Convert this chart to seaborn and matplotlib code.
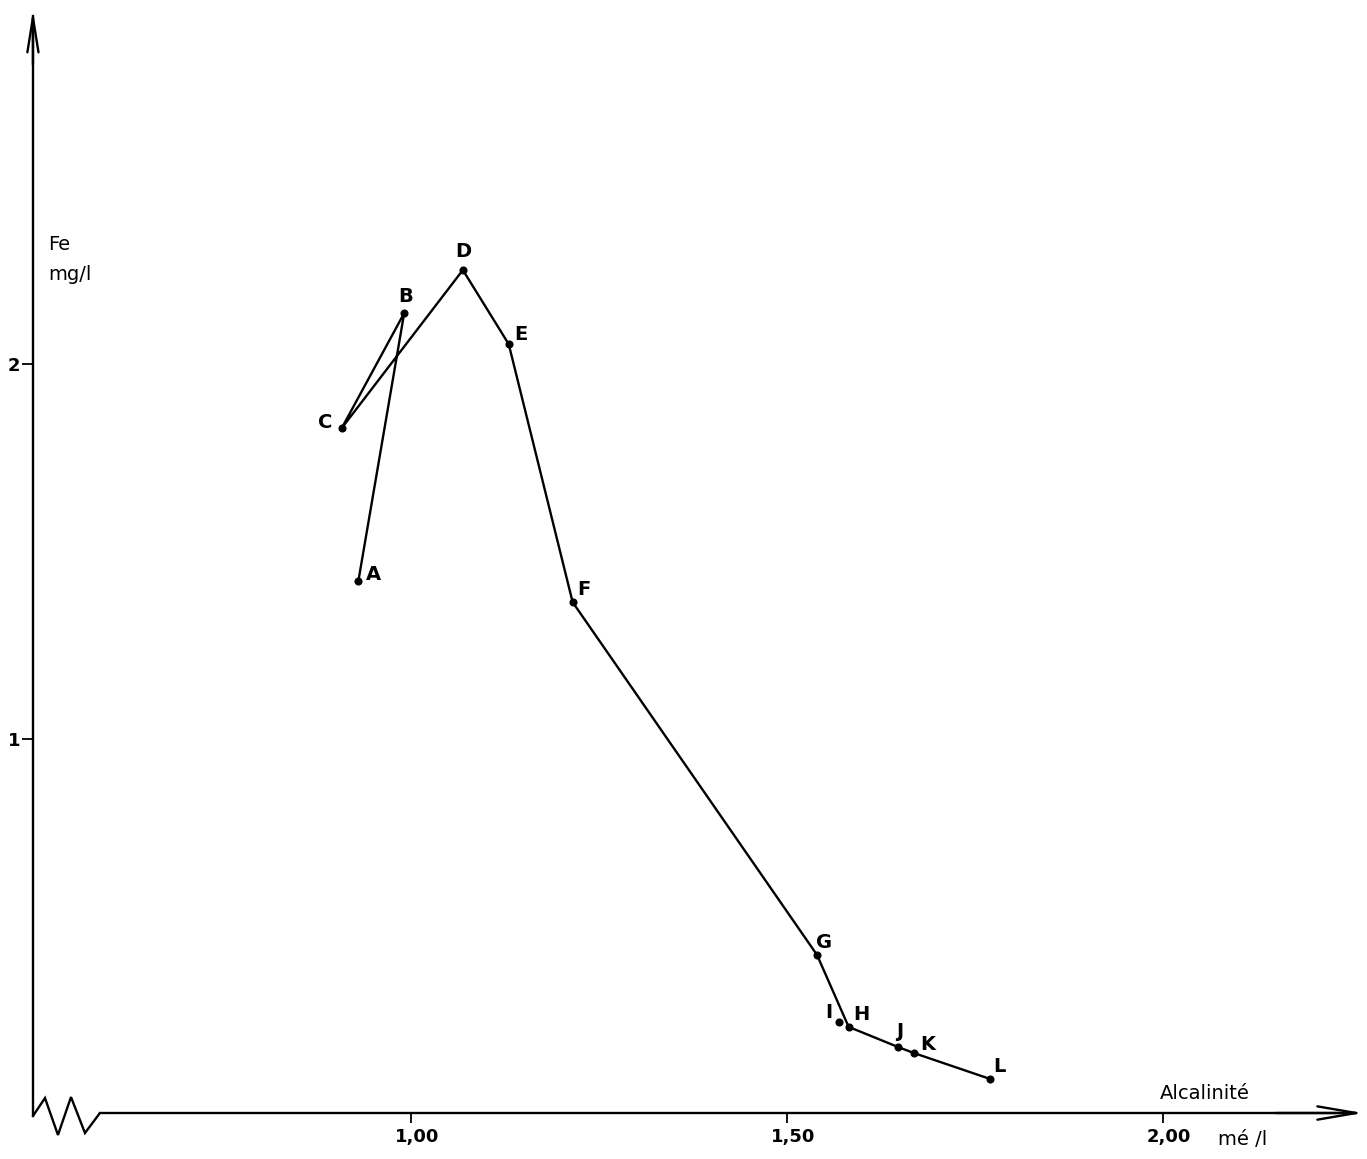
"""
Fe (mg/l) against alkalinity (mé/l), points A to L.
"""

import matplotlib
matplotlib.use("Agg")
import pandas as pd
import matplotlib.pyplot as plt
import matplotlib.transforms as mtransforms
import seaborn as sns

# ---------------------------------------------------------------------------
# Data
# ---------------------------------------------------------------------------
labels = ["A", "B", "C", "D", "E", "F", "G", "H", "I", "J", "K", "L"]
alcalinite = [0.930, 0.991, 0.908, 1.069, 1.130, 1.215, 1.540, 1.582, 1.569, 1.648, 1.669, 1.770]
fer = [1.42, 2.136, 1.829, 2.251, 2.053, 1.364, 0.422, 0.230, 0.243, 0.176, 0.160, 0.091]
# order of the drawn path (I stands alone next to H)
path_order = ["A", "B", "C", "D", "E", "F", "G", "H", "J", "K", "L"]

x_ticks = [1.0, 1.5, 2.0]
x_tick_labels = ["1,00", "1,50", "2,00"]
y_ticks = [1, 2]
y_tick_labels = ["1", "2"]

# label offsets in points (dx, dy) from each dot
LABEL_OFFSETS = {
    "A": (11, 5), "B": (1, 12), "C": (-12, 4), "D": (0, 13),
    "E": (9, 7), "F": (8, 9), "G": (5, 9), "H": (9, 9),
    "I": (-7, 7), "J": (1, 11), "K": (10, 6), "L": (7, 9),
}

df = pd.DataFrame({"label": labels, "alc": alcalinite, "fe": fer})
df_path = df.set_index("label").loc[path_order].reset_index()

sns.set_style("white")
plt.rcParams["font.family"] = ["DejaVu Sans"]
plt.rcParams["text.color"] = "black"
plt.rcParams["xtick.color"] = "black"
plt.rcParams["ytick.color"] = "black"

fig = plt.figure(figsize=(13.67, 11.59), dpi=100)
ax = fig.add_axes([0, 0, 1, 1])
ax.set_xlim(0.4535, 2.2713)
ax.set_ylim(-0.1228, 2.972)

Y_AXIS_X = 0.4973
LW = 1.7

# curve and points
sns.lineplot(data=df_path, x="alc", y="fe", sort=False, estimator=None,
             color="black", lw=LW, ax=ax)
sns.scatterplot(data=df, x="alc", y="fe", color="black", s=34,
                edgecolor="black", linewidth=0, ax=ax, zorder=3)

for lab, xv, yv in zip(labels, alcalinite, fer):
    dx, dy = LABEL_OFFSETS[lab]
    ax.annotate(lab, (xv, yv), xytext=(dx, dy), textcoords="offset points",
                ha="center", va="center", fontsize=14, fontweight="bold",
                color="black")

# axes: spines positioned in data space
for side in ["top", "right"]:
    ax.spines[side].set_visible(False)
ax.spines["left"].set_position(("data", Y_AXIS_X))
ax.spines["bottom"].set_position(("data", 0))
ax.spines["left"].set_bounds(-0.008, 2.93)
ax.spines["bottom"].set_bounds(0.5864, 2.255)
for side in ["left", "bottom"]:
    ax.spines[side].set_linewidth(LW)
    ax.spines[side].set_color("black")

ax.set_xticks(x_ticks)
ax.set_xticklabels(x_tick_labels, fontsize=13, fontweight="bold")
ax.set_yticks(y_ticks)
ax.set_yticklabels(y_tick_labels, fontsize=13, fontweight="bold")
ax.tick_params(axis="x", direction="out", length=7, width=1.3, pad=4, bottom=True)
ax.tick_params(axis="y", direction="out", length=8, width=1.3, pad=1, left=True)
ax.set_xlabel("")
ax.set_ylabel("")

# decimal comma sits under the tick, so nudge labels right
shift = mtransforms.ScaledTranslation(6 / 100, 0, fig.dpi_scale_trans)
for lbl in ax.get_xticklabels():
    lbl.set_transform(lbl.get_transform() + shift)

# axis break zigzag at the origin
zig_x = [0.4973, 0.5133, 0.5306, 0.5479, 0.5665, 0.5864]
zig_y = [-0.008, 0.040, -0.0587, 0.0427, -0.0534, 0.0]
ax.plot(zig_x, zig_y, color="black", lw=LW, solid_joinstyle="miter", clip_on=False)

# open arrowheads
ax.annotate("", xy=(Y_AXIS_X, 2.945), xytext=(Y_AXIS_X, 2.80),
            arrowprops=dict(arrowstyle="->,head_length=1.25,head_width=0.2",
                            lw=LW, color="black", mutation_scale=20,
                            shrinkA=0, shrinkB=0))
ax.annotate("", xy=(2.2663, 0), xytext=(2.15, 0),
            arrowprops=dict(arrowstyle="->,head_length=1.4,head_width=0.24",
                            lw=LW, color="black", mutation_scale=20,
                            shrinkA=0, shrinkB=0))

# axis titles
ax.text(0.517, 2.318, "Fe", fontsize=14, ha="left", va="center")
ax.text(0.517, 2.238, "mg/l", fontsize=14, ha="left", va="center")
ax.text(1.996, 0.051, "Alcalinité", fontsize=14, ha="left", va="center")
ax.text(2.073, -0.072, "mé /l", fontsize=14, ha="left", va="center")

fig.savefig("out.png", dpi=100)
